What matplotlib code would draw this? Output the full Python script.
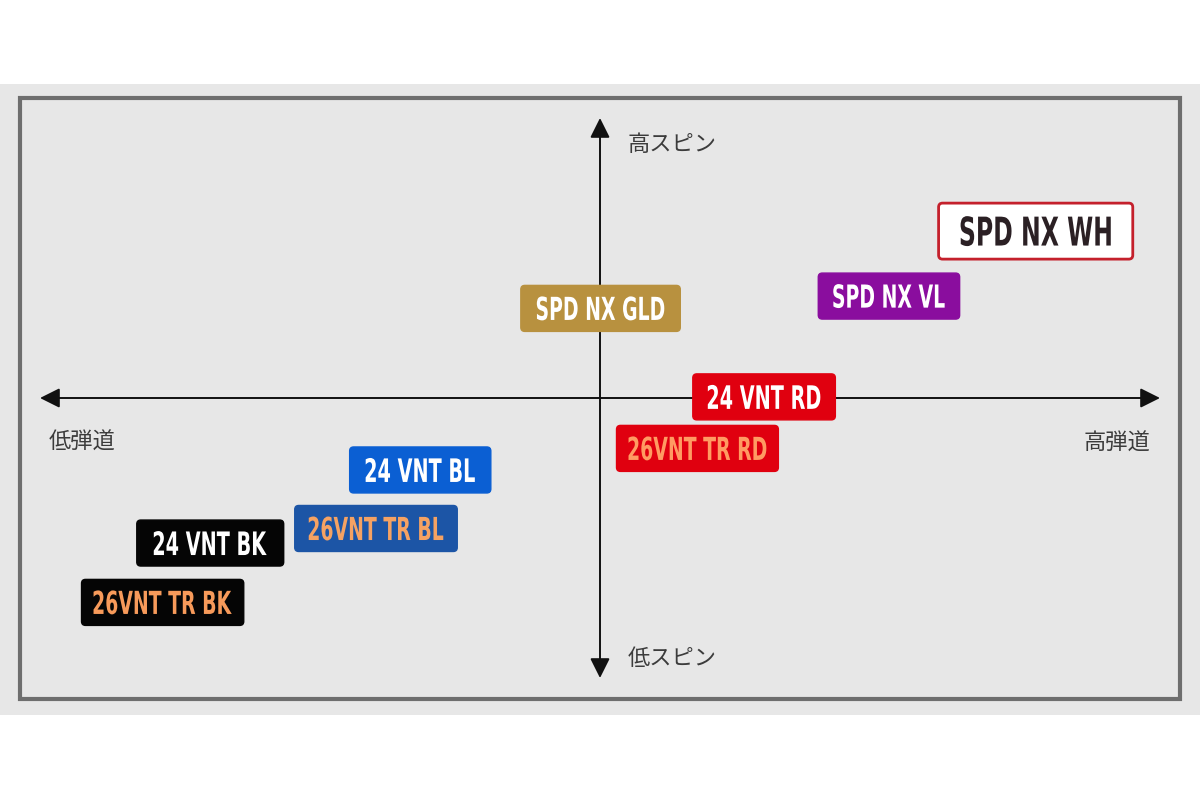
import matplotlib
matplotlib.use("Agg")
import matplotlib.pyplot as plt
import matplotlib.transforms as mtransforms
from matplotlib.patches import Rectangle, FancyArrowPatch, FancyBboxPatch, PathPatch
from matplotlib.textpath import TextPath
from matplotlib.font_manager import FontProperties

# ---- data ----
names = ["SPD NX WH", "SPD NX VL", "SPD NX GLD", "24 VNT RD", "26VNT TR RD",
         "24 VNT BL", "26VNT TR BL", "24 VNT BK", "26VNT TR BK"]
trajectory = [7.78, 5.16, 0.01, 2.93, 1.74, -3.21, -4.00, -6.96, -7.81]   # 弾道 (x)
spin = [5.96, 3.64, 3.20, 0.04, -1.80, -2.57, -4.66, -5.18, -7.30]        # スピン (y)
axis_labels = {"x_low": "低弾道", "x_high": "高弾道", "y_high": "高スピン", "y_low": "低スピン"}

# ---- styles ----
face = ["#ffffff", "#8a0d9e", "#b8913f", "#e0000f", "#e0000f",
        "#0b5fd3", "#1c55a6", "#050505", "#050505"]
edge = ["#c4202c", "#8a0d9e", "#b8913f", "#e0000f", "#e0000f",
        "#0b5fd3", "#1c55a6", "#050505", "#050505"]
txt = ["#2b2024", "#ffffff", "#ffffff", "#ffffff", "#ff9b62",
       "#ffffff", "#f5a263", "#ffffff", "#f79a5a"]
cap_px = [30, 24, 24, 24, 24, 24, 24, 24, 24]     # cap height in pixels
box_h = [56, 46, 46, 46, 46, 46, 46, 46, 46]       # box height in pixels
pad_x = [22, 15, 16, 15, 12, 16, 14, 17, 12]
condense = 0.595

plt.rcParams['font.family'] = ['Noto Sans CJK JP', 'DejaVu Sans']

fig = plt.figure(figsize=(12, 8), dpi=100)
fig.patch.set_facecolor("white")
ax = fig.add_axes([0, 0, 1, 1])
ax.set_xlim(-600 / 56, 600 / 56)
ax.set_ylim(-402 / 28, 398 / 28)
ax.axis("off")

# background panel and frame (figure coords)
ax.add_patch(Rectangle((0, 85 / 800), 1, 631 / 800, transform=fig.transFigure,
                       facecolor="#e7e7e7", edgecolor="none", zorder=0, clip_on=False))
ax.add_patch(Rectangle((20 / 1200, 101 / 800), 1160 / 1200, 601 / 800,
                       transform=fig.transFigure, facecolor="none",
                       edgecolor="#6e6e6e", linewidth=3, zorder=1, clip_on=False))

# axes arrows
for (x0, y0, x1, y1) in [(0, 0, -10, 0), (0, 0, 10, 0), (0, 0, 0, 10), (0, 0, 0, -10)]:
    ax.add_patch(FancyArrowPatch((x0, y0), (x1, y1), arrowstyle="-|>,head_length=8,head_width=4",
                                 mutation_scale=1.5, color="#111111", lw=1.4,
                                 shrinkA=0, shrinkB=0, zorder=2))

lab_kw = dict(fontsize=16, color="#3c3c3c", va="center")
ax.text(-9.84, -1.57, axis_labels["x_low"], ha="left", **lab_kw)
ax.text(9.82, -1.6, axis_labels["x_high"], ha="right", **lab_kw)
ax.text(0.5, 9.04, axis_labels["y_high"], ha="left", **lab_kw)
ax.text(0.5, -9.32, axis_labels["y_low"], ha="left", **lab_kw)

fp = FontProperties(family="DejaVu Sans", weight="bold")
for i, n in enumerate(names):
    tp = TextPath((0, 0), n, size=100, prop=fp)
    ext = tp.get_extents()
    s = cap_px[i] / ext.height
    cx = (ext.x0 + ext.x1) / 2
    cy = (ext.y0 + ext.y1) / 2
    anchor = mtransforms.ScaledTranslation(trajectory[i], spin[i], ax.transData)
    text_tr = mtransforms.Affine2D().translate(-cx, -cy).scale(s * condense, s) + anchor
    w = ext.width * s * condense + 2 * pad_x[i]
    h = box_h[i]
    box = FancyBboxPatch((-w / 2, -h / 2), w, h, boxstyle="round,pad=0,rounding_size=4",
                         transform=anchor, facecolor=face[i], edgecolor=edge[i],
                         linewidth=2 if i == 0 else 1, zorder=3)
    ax.add_patch(box)
    ax.add_patch(PathPatch(tp, transform=text_tr, facecolor=txt[i], edgecolor="none", zorder=4))

fig.savefig("out.png", dpi=100)
